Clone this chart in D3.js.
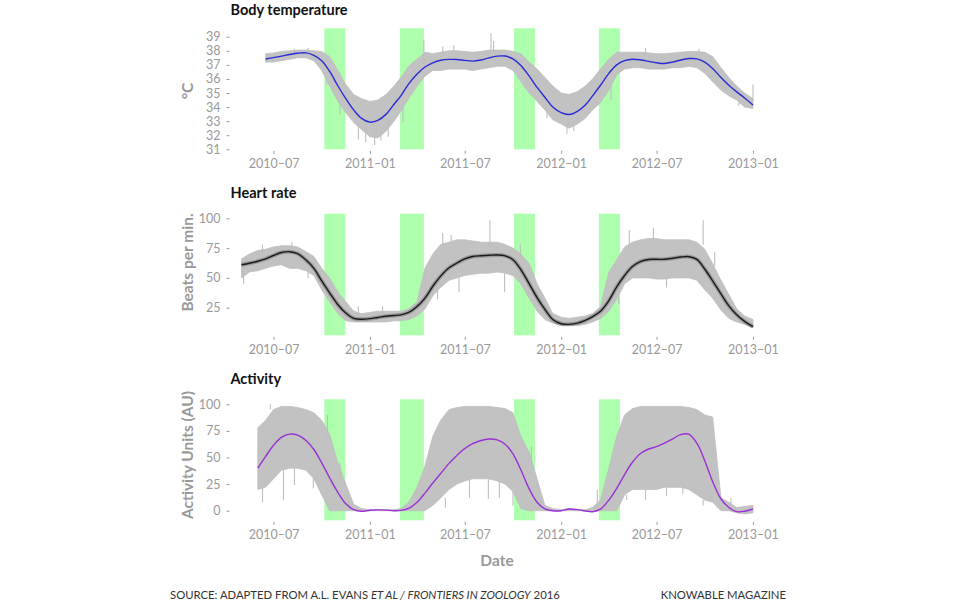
<!DOCTYPE html>
<html><head><meta charset="utf-8">
<script src="https://cdn.jsdelivr.net/npm/d3@7"></script>
<style>
body{margin:0;background:#fff;}
text{font-family:Lato,'Open Sans',sans-serif;}
</style>
</head><body>
<svg id="chart" width="960" height="609"></svg>
<script>
// ---------- DATA ----------
const dates = [
 "2010-05-01","2010-05-16","2010-06-01","2010-06-16","2010-07-01","2010-07-16","2010-08-01","2010-08-16",
 "2010-09-01","2010-09-16","2010-10-01","2010-10-16","2010-11-01","2010-11-16","2010-12-01","2010-12-16",
 "2011-01-01","2011-01-16","2011-02-01","2011-02-16","2011-03-01","2011-03-16","2011-04-01","2011-04-16",
 "2011-05-01","2011-05-16","2011-06-01","2011-06-16","2011-07-01","2011-07-16","2011-08-01","2011-08-16",
 "2011-09-01","2011-09-16","2011-10-01","2011-10-16","2011-11-01","2011-11-16","2011-12-01","2011-12-16",
 "2012-01-01","2012-01-16","2012-02-01","2012-02-16","2012-03-01","2012-03-16","2012-04-01","2012-04-16",
 "2012-05-01","2012-05-16","2012-06-01","2012-06-16","2012-07-01","2012-07-16","2012-08-01","2012-08-16",
 "2012-09-01","2012-09-16","2012-10-01","2012-10-16","2012-11-01","2012-11-16","2012-12-01","2012-12-16",
 "2013-01-01"];

const xTickDates = ["2010-07-01","2011-01-01","2011-07-01","2012-01-01","2012-07-01","2013-01-01"];
const xTickLabels = ["2010–07","2011–01","2011–07","2012–01","2012–07","2013–01"];

const hibernationStart = ["2010-10-06","2011-02-27","2011-10-03","2012-03-13"];
const hibernationEnd   = ["2010-11-15","2011-04-14","2011-11-12","2012-04-22"];

// Body temperature (°C)
const tempTicks = [31,32,33,34,35,36,37,38,39];
const tempSmooth = [null,null,null,37.42,37.52,37.62,37.74,37.83,37.85,37.68,37.3,36.55,35.5,34.6,33.8,33.2,
 32.93,33.05,33.5,34.2,34.8,35.65,36.35,36.85,37.15,37.33,37.39,37.38,37.32,37.27,37.35,37.5,
 37.62,37.63,37.42,36.95,36.2,35.4,34.7,34.0,33.6,33.47,33.7,34.15,34.8,35.55,36.4,37.0,
 37.3,37.4,37.35,37.25,37.15,37.1,37.2,37.35,37.45,37.43,37.2,36.75,36.1,35.55,35.08,34.65,34.15];
const tempLow = [null,null,null,37.2,37.2,37.3,37.4,37.5,37.5,37.3,36.6,35.5,34.4,33.6,32.9,32.4,
 31.9,31.8,32.3,33.0,33.7,34.6,35.5,36.2,36.6,36.6,36.7,36.7,36.7,36.6,36.7,36.8,
 36.9,36.9,36.6,35.8,35.0,34.4,33.8,33.1,32.8,32.5,32.8,33.2,33.8,34.3,35.2,36.3,
 36.7,36.8,36.8,36.7,36.7,36.7,36.8,36.8,36.9,36.8,36.4,35.8,35.2,34.8,34.5,34.0,33.9];
const tempHigh = [null,null,null,37.8,37.85,37.95,38.0,38.05,38.05,38.0,37.95,37.6,36.6,35.6,34.9,34.6,
 34.4,34.5,34.9,35.5,36.1,36.9,37.4,37.9,37.8,37.9,38.0,38.0,37.95,37.9,37.95,38.05,
 38.05,38.05,37.95,37.8,37.2,36.7,36.1,35.5,35.0,34.9,35.1,35.5,36.0,36.7,37.4,37.9,
 37.9,37.9,37.9,37.85,37.8,37.8,37.85,37.9,37.95,37.95,37.9,37.6,36.8,36.1,35.5,35.0,34.6];
const tempSpikeDates = ["2010-08-10","2010-09-05","2010-10-10","2010-11-05","2010-12-10","2010-12-24","2011-01-10",
 "2011-01-22","2011-02-05","2011-03-05","2011-03-25","2011-04-14","2011-05-20","2011-06-10","2011-08-20",
 "2011-08-25","2011-10-25","2011-12-05","2012-01-12","2012-01-25","2012-04-05","2012-06-10","2012-09-20",
 "2012-12-05","2013-01-01"];
const tempSpikeFrom = [37.9,37.9,36.5,34.5,33.0,32.6,32.3,32.5,33.2,34.0,36.5,37.0,37.8,37.8,37.9,
 37.9,36.0,34.0,32.8,32.8,35.5,37.8,37.9,34.6,34.4];
const tempSpikeTo = [38.15,38.2,35.6,33.5,31.7,31.5,31.3,31.6,31.9,32.9,37.2,38.8,38.3,38.4,39.25,
 38.7,35.3,33.2,32.1,32.3,34.5,38.2,38.15,34.1,35.6];

// Heart rate (beats per min.)
const hrTicks = [25,50,75,100];
const hrSmooth = [61.0,62.3,64.0,66.0,68.8,71.3,72.0,70.3,65.0,58.0,47.5,37.5,27.5,20.5,16.0,15.3,
 15.8,16.8,17.8,18.4,19.0,21.0,26.0,33.0,43.0,51.5,58.5,62.5,66.0,68.0,68.6,69.0,
 69.2,68.5,65.3,57.0,45.0,33.5,23.5,15.0,11.5,11.0,12.0,14.3,17.5,22.0,31.0,42.5,
 52.0,59.5,63.8,65.5,65.6,65.6,66.5,67.5,67.8,65.5,57.5,47.5,36.5,26.5,19.0,13.5,9.0];
const hrLow = [50,55,56,58,60,61,58,58,56,52,40,30,20,14,13,13,
 13,13,13,14,14,15,18,24,35,42,48,50,52,53,54,54,
 55,54,52,45,33,22,15,12,10,10,10,11,13,16,22,32,
 45,50,50,50,49,49,50,50,50,48,40,33,23,16,13,11,8];
const hrHigh = [66,70,73,74,76,77,77,76,72,68,58,50,38,30,22,20,
 21,22,22,22,22,24,30,58,70,78,80,82,82,81,80,80,
 80,78,75,70,62,45,33,20,17,16,17,18,20,26,55,65,
 76,80,82,83,83,82,82,82,82,80,74,62,48,36,24,18,15];
const hrSpikeDates = ["2010-05-05","2010-06-10","2010-08-05","2010-09-05","2010-11-01","2010-12-10","2011-01-25",
 "2011-04-17","2011-05-10","2011-05-20","2011-06-05","2011-06-20","2011-08-18","2011-09-15","2011-10-15",
 "2012-04-20","2012-05-10","2012-06-25","2012-07-20","2012-09-28","2012-10-20"];
const hrSpikeFrom = [55,72,74,58,30,20,20,28,40,75,78,50,78,54,68,35,78,80,50,78,60];
const hrSpikeTo   = [45,78,80,50,36,26,26,57,32,88,86,38,98.5,38,78,28,90,92,42,98.5,72];

// Activity (activity units)
const actTicks = [0,25,50,75,100];
const actSmooth = [null,null,40.0,51.0,61.5,69.0,72.0,71.0,66.0,57.5,45.0,31.0,17.0,6.5,1.0,-0.5,
 0.5,0.8,0.6,0.0,0.3,2.2,8.0,16.5,26.0,35.0,44.5,52.0,58.5,63.0,66.0,67.4,
 66.5,62.5,53.5,38.5,20.5,8.0,1.8,0.0,0.0,1.6,1.0,-0.2,-0.9,1.5,10.0,21.0,
 34.0,45.5,54.0,58.0,60.2,63.5,67.5,71.5,71.8,63.5,47.0,27.5,11.0,3.0,-0.9,-0.5,1.6];
const actLow = [null,null,20,22,30,38,40,40,38,30,15,0,0,0,0,0,
 0,0,0,0,0,0,0,0,5,12,20,25,28,30,30,30,
 28,25,18,2,0,0,0,0,0,0,0,0,0,0,0,0,
 15,20,20,20,20,22,22,22,20,15,10,8,0,0,-2,-3,-2];
const actHigh = [null,null,78,85,95,98,98,97,95,92,85,72,45,25,6,2,
 1,1,1,1,2,8,22,42,70,85,95,97,98,98,98,98,
 97,96,92,70,55,30,5,2,1,2,1,1,3,10,40,70,
 90,96,98,98,98,98,98,98,97,95,90,88,12,8,3,4,5];
const actSpikeDates = ["2010-06-10","2010-06-25","2010-07-20","2010-08-10","2010-09-15","2010-10-12","2010-11-05",
 "2010-11-20","2011-05-25","2011-07-10","2011-08-15","2011-09-05","2011-10-01","2011-11-05","2012-03-10",
 "2012-05-05","2012-06-10","2012-07-20","2012-08-20","2012-09-28","2012-11-20"];
const actSpikeFrom = [22,95,40,40,30,70,30,8,12,30,30,28,18,40,0,15,20,22,22,10,0];
const actSpikeTo   = [8,100,10,24,21,90,45,20,3,12,11,12,5,60,20,10,10,14,16,5,12];

// ---------- LAYOUT / STYLE ----------
const parse = d3.timeParse("%Y-%m-%d");
const svg = d3.select("#chart");
const x = d3.scaleTime().domain([parse("2010-04-08"), parse("2013-02-01")]).range([229.5, 769.2]);
const xTickMap = new Map(xTickDates.map((d,i)=>[+parse(d), xTickLabels[i]]));

const panels = [
 {title:"Body temperature", ytitle:"°C", top:28.3, bottom:149.3, domain:[31,39.6], ticks:tempTicks,
  smooth:tempSmooth, low:tempLow, high:tempHigh, sd:tempSpikeDates, sf:tempSpikeFrom, st:tempSpikeTo,
  color:"#2a2ad6", titleY:15, ytitleY:91, halo:false},
 {title:"Heart rate", ytitle:"Beats per min.", top:213.7, bottom:335.3, domain:[1.8,103.9], ticks:hrTicks,
  smooth:hrSmooth, low:hrLow, high:hrHigh, sd:hrSpikeDates, sf:hrSpikeFrom, st:hrSpikeTo,
  color:"#1a1a1a", titleY:198, ytitleY:262.5, halo:true},
 {title:"Activity", ytitle:"Activity Units (AU)", top:399.3, bottom:520.3, domain:[-9,104.7], ticks:actTicks,
  smooth:actSmooth, low:actLow, high:actHigh, sd:actSpikeDates, sf:actSpikeFrom, st:actSpikeTo,
  color:"#9a30d6", titleY:384, ytitleY:455, halo:false}
];

const rows = dates.map(parse);

panels.forEach(p => {
  const y = d3.scaleLinear().domain(p.domain).range([p.bottom, p.top]);
  const g = svg.append("g");

  g.selectAll("rect.h").data(hibernationStart).join("rect")
    .attr("x", (d)=>x(parse(d)))
    .attr("width", (d,i)=>x(parse(hibernationEnd[i])) - x(parse(d)))
    .attr("y", p.top).attr("height", p.bottom - p.top)
    .attr("fill", "#adffad");

  const area = d3.area()
    .defined((d,i)=>p.low[i]!=null)
    .x((d)=>x(d)).y0((d,i)=>y(p.low[i])).y1((d,i)=>y(p.high[i]));
  g.append("path").datum(rows).attr("d", area).attr("fill", "#c2c2c2")
    .attr("stroke", "#bebebe").attr("stroke-width", 0.8).attr("stroke-linejoin","bevel");

  g.selectAll("line.s").data(p.sd).join("line")
    .attr("x1", d=>x(parse(d))).attr("x2", d=>x(parse(d)))
    .attr("y1", (d,i)=>y(p.sf[i])).attr("y2", (d,i)=>y(p.st[i]))
    .attr("stroke", "#bebebe").attr("stroke-width", 1.1);

  const line = d3.line()
    .defined((d,i)=>p.smooth[i]!=null)
    .x(d=>x(d)).y((d,i)=>y(p.smooth[i]))
    .curve(d3.curveCatmullRom.alpha(0.5));
  if (p.halo) g.append("path").datum(rows).attr("d", line).attr("fill","none")
      .attr("stroke","#666").attr("stroke-opacity",0.45).attr("stroke-width",4);
  g.append("path").datum(rows).attr("d", line).attr("fill","none")
    .attr("stroke", p.color).attr("stroke-width", 1.4);

  const ya = g.append("g").attr("transform", `translate(229.5,0)`)
    .call(d3.axisLeft(y).tickValues(p.ticks).tickSize(3).tickPadding(6));
  ya.select(".domain").remove();
  ya.selectAll("line").attr("stroke", "#999");
  ya.selectAll("text").attr("fill", "#999").style("font-size","12.5px").style("font-family","Lato, sans-serif");

  const xa = g.append("g").attr("transform", `translate(0,${p.bottom+1.5})`)
    .call(d3.axisBottom(x).tickValues(xTickDates.map(parse)).tickSize(3).tickPadding(5)
      .tickFormat(d=>xTickMap.get(+d)));
  xa.select(".domain").remove();
  xa.selectAll("line").attr("stroke", "#999");
  xa.selectAll("text").attr("fill", "#999").style("font-size","12.5px").style("font-family","Lato, sans-serif");

  svg.append("text").attr("x", 230.5).attr("y", p.titleY).text(p.title)
    .attr("fill", "#111").style("font-size","14.5px").style("font-weight","bold");
  svg.append("text").attr("transform", `translate(193,${p.ytitleY}) rotate(-90)`)
    .attr("text-anchor","middle").text(p.ytitle)
    .attr("fill", "#999").style("font-size","15.5px").style("font-weight","bold");
});

svg.append("text").attr("x", 497).attr("y", 566).attr("text-anchor","middle").text("Date")
  .attr("fill","#999").style("font-size","15.5px").style("font-weight","bold");

const src = svg.append("text").attr("x", 170).attr("y", 599).attr("fill","#333").style("font-size","11.3px");
src.append("tspan").text("SOURCE: ADAPTED FROM A.L. EVANS ");
src.append("tspan").style("font-style","italic").text("ET AL / FRONTIERS IN ZOOLOGY");
src.append("tspan").text(" 2016");
svg.append("text").attr("x", 786).attr("y", 599).attr("text-anchor","end").attr("fill","#333")
  .style("font-size","11.3px").text("KNOWABLE MAGAZINE");
</script>
</body></html>
